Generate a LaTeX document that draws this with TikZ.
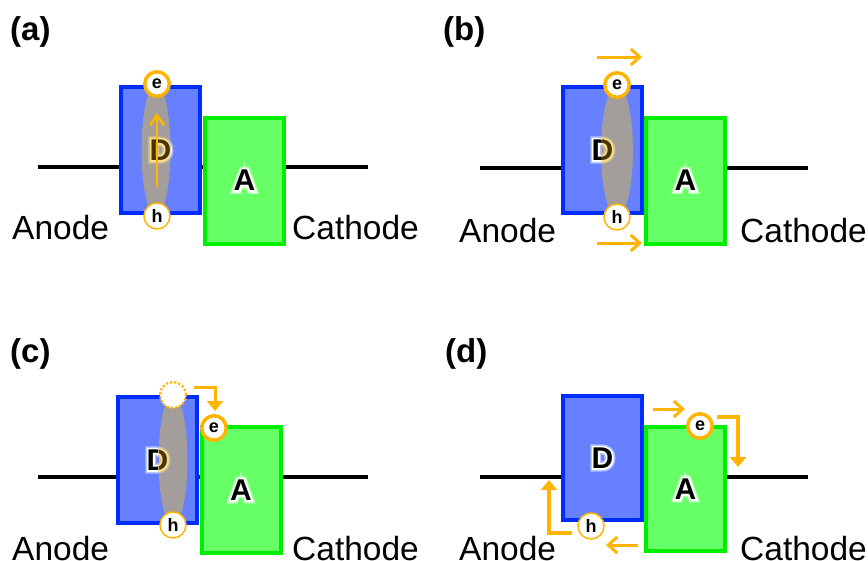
\documentclass[tikz,border=0pt]{standalone}
\usepackage{fontspec}
\setmainfont{Liberation Sans}
\newfontface\halofont[FakeBold=12]{Liberation Sans Bold}
\newfontface\halofontb[FakeBold=22]{Liberation Sans Bold}
\usetikzlibrary{arrows.meta,calc}
\definecolor{dblue}{RGB}{0,45,255}
\definecolor{dfill}{RGB}{102,128,255}
\definecolor{agreen}{RGB}{0,238,0}
\definecolor{afill}{RGB}{102,255,102}
\definecolor{orng}{RGB}{255,180,0}
\definecolor{exc}{RGB}{163,157,155}
\definecolor{glowy}{RGB}{250,222,140}
\definecolor{brn}{RGB}{72,52,12}
\tikzset{
  dbox/.style={draw=dblue, fill=dfill, line width=4pt, minimum width=79pt, minimum height=126pt, inner sep=0pt},
  abox/.style={draw=agreen, fill=afill, line width=4pt, minimum width=79pt, minimum height=126pt, inner sep=0pt},
  wire/.style={line width=4.5pt, black},
  biglbl/.style={font=\bfseries\fontsize{30}{30}\selectfont, inner sep=0pt},
  halolbl/.style={font=\halofont\fontsize{30}{30}\selectfont, inner sep=0pt},
  halolblb/.style={font=\halofontb\fontsize{30}{30}\selectfont, inner sep=0pt, opacity=0.5},
  sidelbl/.style={font=\fontsize{33.5}{36}\selectfont, inner sep=0pt, anchor=base west},
  panlbl/.style={font=\bfseries\fontsize{33}{36}\selectfont, inner sep=0pt, anchor=base west},
  ecirc/.style={circle, draw=orng, line width=3.5pt, fill=white, minimum size=24.5pt, inner sep=0pt, font=\bfseries\fontsize{18}{18}\selectfont},
  hcirc/.style={circle, draw=orng, line width=1.5pt, fill=white, minimum size=26pt, inner sep=0pt, font=\bfseries\fontsize{18}{18}\selectfont},
  ghost/.style={circle, draw=orng, dotted, line width=2.2pt, fill=white, minimum size=26pt, inner sep=0pt},
  sarr/.style={draw=orng, line width=3pt, -{Straight Barb[length=9pt,width=16pt]}},
  varr/.style={draw=orng, line width=2.5pt, -{Straight Barb[length=10pt,width=14pt]}},
  barr/.style={draw=orng, line width=3.5pt, line join=miter, -{Triangle[length=10pt,width=16pt]}},
}
\newcommand{\glowlab}[5]{%
  \node[halolblb, text=#3] (#1b) at (#2) {#5};%
  \node[halolbl, text=#3] (#1h) at (#2) {#5};%
  \node[biglbl, text=#4] (#1) at (#2) {#5};%
}
\begin{document}
\begin{tikzpicture}[x=1pt,y=-1pt]
\useasboundingbox (0,0) rectangle (868,560);

% ================= (a)
\node[panlbl] (pa) at (10,40) {(a)};
\coordinate (wa1) at (38,167); \coordinate (wa2) at (368,167);
\draw[wire] (wa1) -- (wa2);
\node[dbox] (Da) at (160.5,150) {};
\node[abox] (Aa) at (244.5,180.5) {};
\glowlab{DLa}{Da.center}{white}{black}{D}
\fill[exc] (156,150) ellipse [x radius=14.5pt, y radius=66pt];
\begin{scope}
  \clip (156,150) ellipse [x radius=14.5pt, y radius=66pt];
  \glowlab{DLai}{Da.center}{glowy}{brn}{D}
\end{scope}
\glowlab{ALa}{Aa.center}{white}{black}{A}
\node[ecirc] (ea) at (157,84) {e};
\node[hcirc] (ha) at (157,216) {h};
\coordinate (va1) at (157,187); \coordinate (va2) at (157,113);
\draw[varr] (va1) -- (va2);
\node[sidelbl] (ana) at (12,239) {Anode};
\node[sidelbl] (caa) at (292,239) {Cathode};

% ================= (b)
\node[panlbl] (pb) at (443,40) {(b)};
\coordinate (wb1) at (480,168); \coordinate (wb2) at (808,168);
\draw[wire] (wb1) -- (wb2);
\node[dbox] (Db) at (602.5,150) {};
\node[abox] (Ab) at (685.5,180.5) {};
\glowlab{DLb}{Db.center}{white}{black}{D}
\fill[exc] (617,151) ellipse [x radius=16pt, y radius=66pt];
\begin{scope}
  \clip (617,151) ellipse [x radius=16pt, y radius=66pt];
  \glowlab{DLbi}{Db.center}{glowy}{brn}{D}
\end{scope}
\glowlab{ALb}{Ab.center}{white}{black}{A}
\node[ecirc] (eb) at (617,85) {e};
\node[hcirc] (hb) at (617,217) {h};
\coordinate (ab1) at (597,57); \coordinate (ab2) at (642,57);
\draw[sarr] (ab1) -- (ab2);
\coordinate (ab3) at (597,243); \coordinate (ab4) at (642,243);
\draw[sarr] (ab3) -- (ab4);
\node[sidelbl] (anb) at (459,242) {Anode};
\node[sidelbl] (cab) at (740,242) {Cathode};

% ================= (c)
\node[panlbl] (pc) at (10,362) {(c)};
\coordinate (wc1) at (38,477); \coordinate (wc2) at (368,477);
\draw[wire] (wc1) -- (wc2);
\node[dbox] (Dc) at (157.5,460) {};
\node[abox] (Ac) at (241,490) {};
\glowlab{DLc}{Dc.center}{white}{black}{D}
\fill[exc] (173,460) ellipse [x radius=14.5pt, y radius=65pt];
\begin{scope}
  \clip (173,460) ellipse [x radius=14.5pt, y radius=65pt];
  \glowlab{DLci}{Dc.center}{glowy}{brn}{D}
\end{scope}
\glowlab{ALc}{Ac.center}{white}{black}{A}
\node[ghost] (gc) at (173,395) {};
\node[ecirc] (ec) at (214,428) {e};
\node[hcirc] (hc) at (173,525) {h};
\coordinate (ac1) at (194,387); \coordinate (ac2) at (215,387); \coordinate (ac3) at (215,411);
\draw[barr, line width=3pt] (ac1) -- (ac2) -- (ac3);
\node[sidelbl] (anc) at (12,560) {Anode};
\node[sidelbl] (cac) at (292,560) {Cathode};

% ================= (d)
\node[panlbl] (pd) at (445,362) {(d)};
\coordinate (wd1) at (480,477); \coordinate (wd2) at (808,477);
\draw[wire] (wd1) -- (wd2);
\node[dbox, minimum height=124pt] (Dd) at (602.5,458) {};
\node[abox, minimum height=124pt] (Ad) at (685.5,489) {};
\glowlab{DLd}{Dd.center}{white}{black}{D}
\glowlab{ALd}{Ad.center}{white}{black}{A}
\node[ecirc] (ed) at (700,426) {e};
\node[hcirc] (hd) at (591,526) {h};
\coordinate (ad1) at (653,409); \coordinate (ad2) at (685,409);
\draw[sarr] (ad1) -- (ad2);
\coordinate (ad3) at (717,417); \coordinate (ad4) at (738,417); \coordinate (ad5) at (738,467);
\draw[barr] (ad3) -- (ad4) -- (ad5);
\coordinate (ad6) at (638,545); \coordinate (ad7) at (606,545);
\draw[sarr] (ad6) -- (ad7);
\coordinate (ad8) at (572,533); \coordinate (ad9) at (549,533); \coordinate (ad10) at (549,480);
\draw[barr] (ad8) -- (ad9) -- (ad10);
\node[sidelbl] (and) at (459,560) {Anode};
\node[sidelbl] (cad) at (740,560) {Cathode};
\end{tikzpicture}
\end{document}
